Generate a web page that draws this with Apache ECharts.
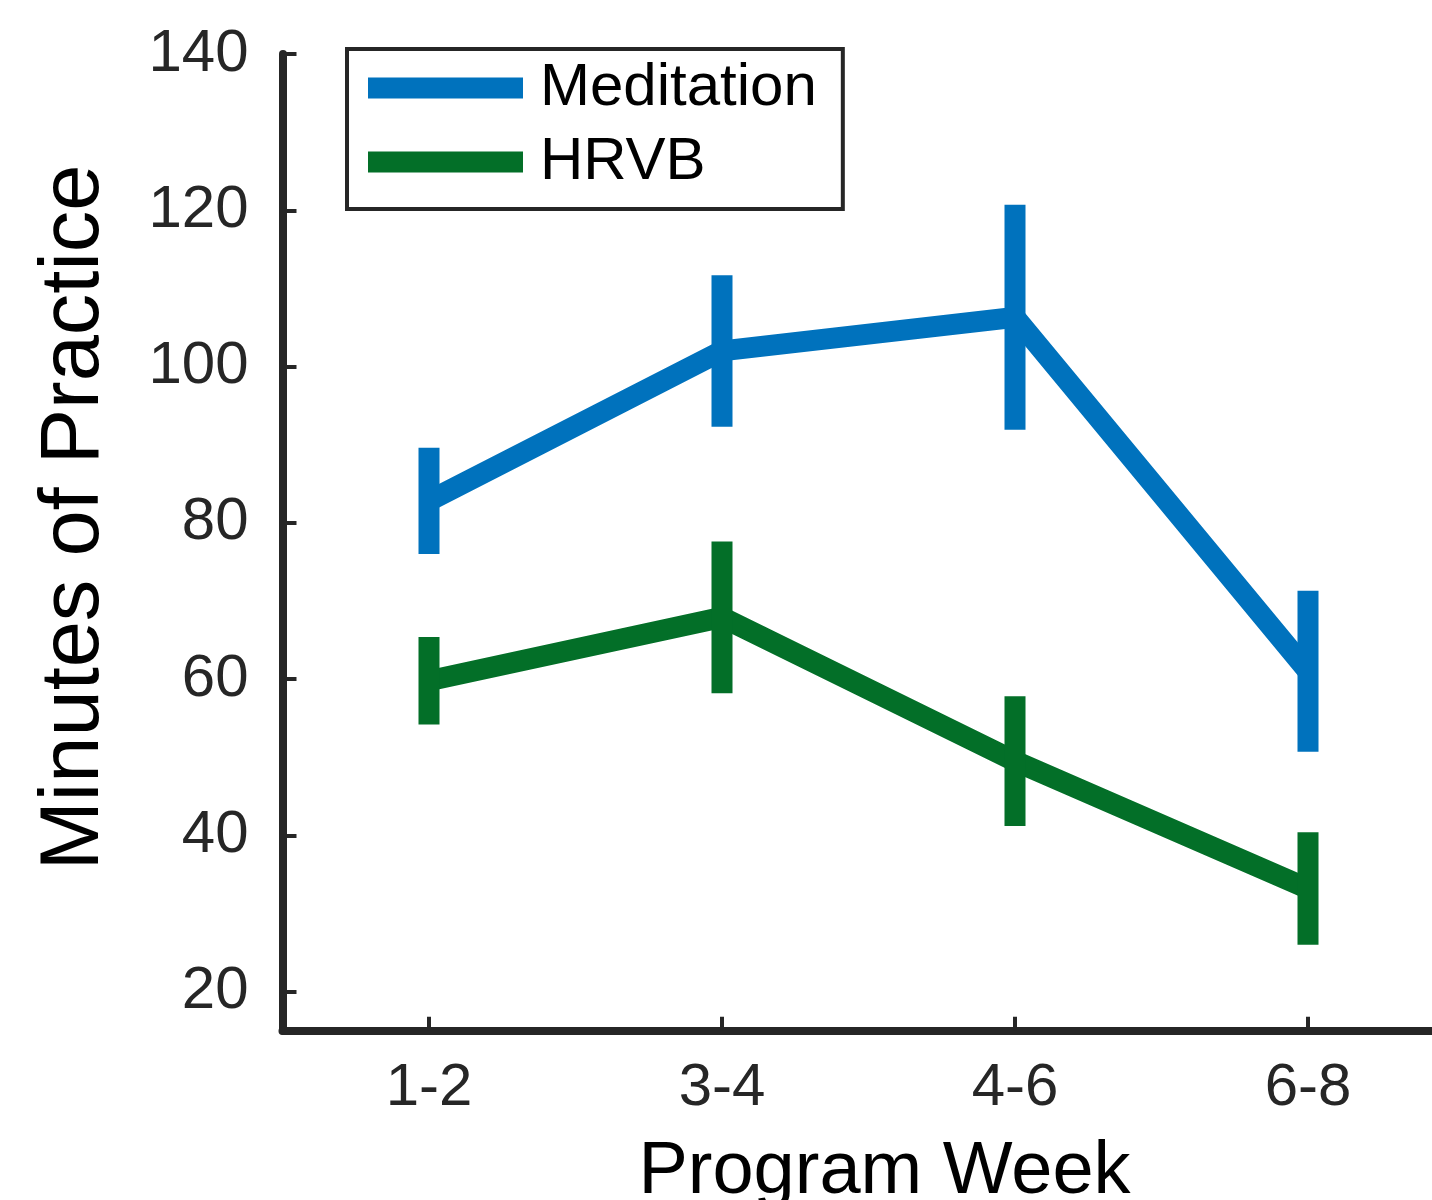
<!DOCTYPE html>
<html>
<head>
<meta charset="utf-8">
<script src="https://cdn.jsdelivr.net/npm/echarts@6/dist/echarts.min.js"></script>
<style>
html,body{margin:0;padding:0;background:#fff;}
#chart{width:1432px;height:1200px;}
</style>
</head>
<body>
<div id="chart"></div>
<script>
// ---- data ----
const weeks = ['1-2', '3-4', '4-6', '6-8'];
const meditationMean = [82.8, 102.0, 106.3, 61.0];
const meditationErr  = [6.8, 9.7, 14.4, 10.3];
const hrvbMean = [59.8, 67.9, 49.5, 33.2];
const hrvbErr  = [5.6, 9.7, 8.3, 7.2];
const yTicks = [20, 40, 60, 80, 100, 120, 140];

const BLUE = '#0072BD';
const GREEN = '#036F28';
const AXIS = '#262626';
const FONT = '"Liberation Sans", Arial, Helvetica, sans-serif';

function errData(mean, err) {
  return mean.map((m, i) => [i, m - err[i], m + err[i]]);
}

function errRender(color) {
  return function (params, api) {
    const x = api.value(0);
    const lo = api.coord([x, api.value(1)]);
    const hi = api.coord([x, api.value(2)]);
    const w = 21;
    return {
      type: 'rect',
      shape: { x: lo[0] - w / 2, y: hi[1], width: w, height: lo[1] - hi[1] },
      style: { fill: color }
    };
  };
}

const chart = echarts.init(document.getElementById('chart'), null, { renderer: 'canvas' });
chart.setOption({
  animation: false,
  backgroundColor: '#fff',
  grid: { left: 282.5, top: 54, width: 1172, height: 976.75, containLabel: false, outerBoundsMode: 'none' },
  legend: {
    left: 347, top: 49,
    orient: 'vertical',
    data: ['Meditation', 'HRVB'],
    icon: 'rect',
    itemWidth: 155, itemHeight: 21,
    itemGap: 14,
    padding: [9, 26, 17, 21],
    borderColor: AXIS, borderWidth: 4,
    backgroundColor: '#fff',
    textStyle: { fontFamily: FONT, fontSize: 60, color: '#000', lineHeight: 60, padding: [0, 0, 0, 12] }
  },
  xAxis: {
    type: 'category',
    data: weeks,
    boundaryGap: true,
    name: 'Program Week',
    nameLocation: 'middle',
    nameGap: 105,
    nameTextStyle: { fontFamily: FONT, fontSize: 74, color: '#000', padding: [0, 0, 0, 32] },
    axisLine: { show: true, lineStyle: { color: AXIS, width: 8 } },
    axisTick: { show: true, inside: true, alignWithLabel: true, length: 14, lineStyle: { color: AXIS, width: 4 } },
    axisLabel: { fontFamily: FONT, fontSize: 60, color: AXIS, margin: 28 },
    splitLine: { show: false }
  },
  yAxis: {
    type: 'value',
    min: 15, max: 140,
    name: 'Minutes of Practice',
    nameLocation: 'middle',
    nameGap: 166,
    nameRotate: 90,
    nameTextStyle: { fontFamily: FONT, fontSize: 83, color: '#000', padding: [0, 0, 0, 50] },
    axisLine: { show: true, lineStyle: { color: AXIS, width: 8 } },
    axisTick: { show: true, inside: true, length: 14, customValues: yTicks, lineStyle: { color: AXIS, width: 4 } },
    axisLabel: { fontFamily: FONT, fontSize: 60, color: AXIS, margin: 34, customValues: yTicks },
    splitLine: { show: false }
  },
  series: [
    {
      name: 'Meditation', type: 'line', data: meditationMean,
      showSymbol: false, symbol: 'none',
      itemStyle: { color: BLUE },
      lineStyle: { color: BLUE, width: 21, cap: 'butt', join: 'miter' },
      z: 3
    },
    {
      name: 'HRVB', type: 'line', data: hrvbMean,
      showSymbol: false, symbol: 'none',
      itemStyle: { color: GREEN },
      lineStyle: { color: GREEN, width: 21, cap: 'butt', join: 'miter' },
      z: 3
    },
    {
      name: 'MeditationErr', type: 'custom',
      data: errData(meditationMean, meditationErr),
      encode: { x: 0, y: [1, 2] },
      renderItem: errRender(BLUE), z: 4
    },
    {
      name: 'HRVBErr', type: 'custom',
      data: errData(hrvbMean, hrvbErr),
      encode: { x: 0, y: [1, 2] },
      renderItem: errRender(GREEN), z: 4
    }
  ]
});
</script>
</body>
</html>
